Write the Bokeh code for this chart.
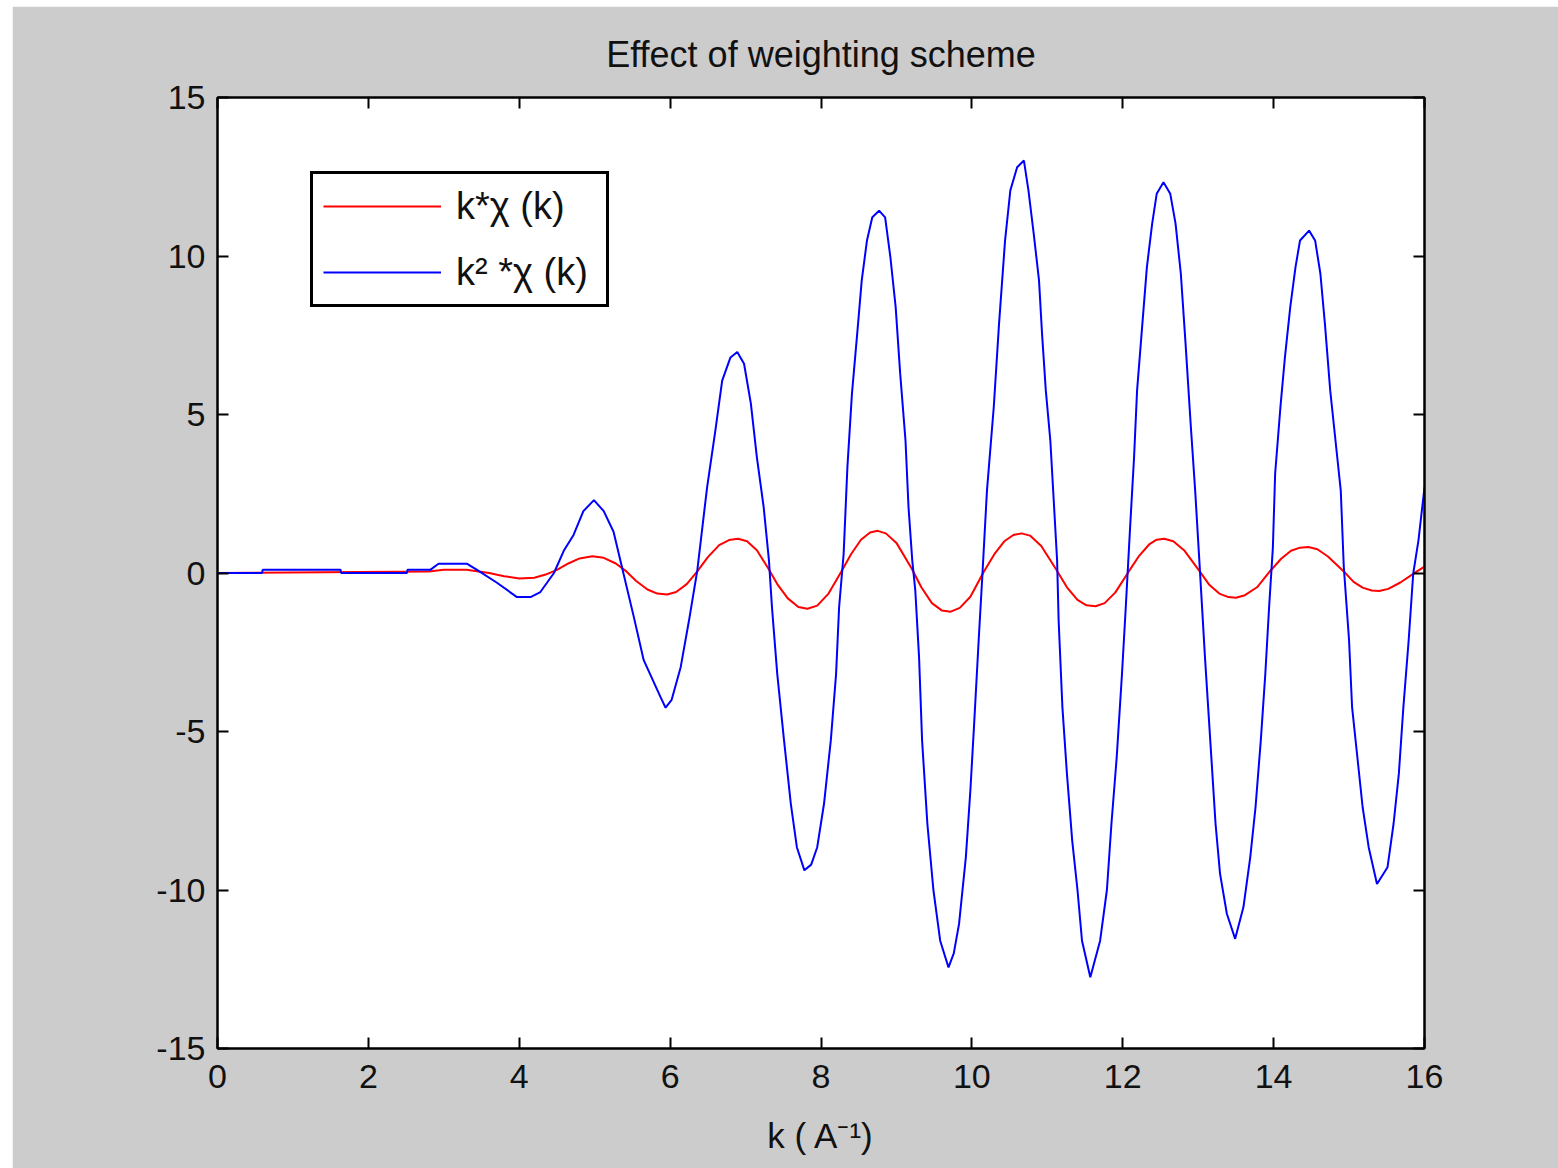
from bokeh.plotting import figure
from bokeh.models import (Range1d, FixedTicker, LinearAxis, Legend, LegendItem,
                          CustomJSTickFormatter)
from bokeh.embed import file_html
from bokeh.resources import INLINE

# k*chi(k) (red)
k_red = [0, 2.8, 3.0, 3.3, 3.6, 3.8, 4.0, 4.2, 4.35, 4.5, 4.65, 4.8, 4.97, 5.12, 5.28, 5.42,
         5.55, 5.7, 5.83, 5.96, 6.08, 6.22, 6.36, 6.5, 6.65, 6.78, 6.9, 7.02, 7.15, 7.3,
         7.42, 7.56, 7.7, 7.82, 7.95, 8.1, 8.27, 8.4, 8.53, 8.65, 8.75, 8.86, 9.0, 9.2,
         9.33, 9.47, 9.6, 9.72, 9.84, 9.98, 10.16, 10.3, 10.43, 10.55, 10.66, 10.77, 10.92,
         11.12, 11.26, 11.4, 11.52, 11.64, 11.76, 11.9, 12.08, 12.22, 12.35, 12.45, 12.55,
         12.67, 12.82, 13.02, 13.15, 13.28, 13.4, 13.5, 13.62, 13.78, 13.96, 14.1, 14.23,
         14.35, 14.46, 14.58, 14.72, 14.93, 15.06, 15.18, 15.3, 15.4, 15.52, 15.68, 15.9, 16.0]
chi_k1 = [0, 0.05, 0.1, 0.1, 0.0, -0.1, -0.17, -0.15, -0.05, 0.1, 0.3, 0.46, 0.53, 0.48, 0.3, 0.05,
          -0.25, -0.52, -0.65, -0.68, -0.6, -0.35, 0.05, 0.5, 0.88, 1.04, 1.08, 1.0, 0.72, 0.15,
          -0.35, -0.8, -1.07, -1.13, -1.03, -0.65, 0.05, 0.6, 1.05, 1.28, 1.33, 1.25, 0.95, 0.15,
          -0.45, -0.95, -1.18, -1.22, -1.1, -0.75, 0.05, 0.6, 1.0, 1.2, 1.25, 1.18, 0.85,
          0.1, -0.45, -0.85, -1.02, -1.05, -0.95, -0.62, 0.05, 0.55, 0.9, 1.05, 1.08,
          1.0, 0.7, 0.05, -0.38, -0.65, -0.76, -0.78, -0.7, -0.45, 0.08, 0.45, 0.7,
          0.8, 0.82, 0.75, 0.52, 0.05, -0.28, -0.46, -0.55, -0.57, -0.5, -0.3, 0.05, 0.2]

# k^2*chi(k) (blue)
k_blue = [0, 0.59, 0.6, 1.63, 1.64, 2.51, 2.52, 2.82, 2.93, 3.31, 3.44, 3.7, 3.97, 4.15, 4.28,
          4.46, 4.59, 4.72, 4.85, 4.99, 5.12, 5.25, 5.38, 5.52, 5.65, 5.87, 5.94, 6.02, 6.14,
          6.25, 6.36, 6.49, 6.60, 6.69, 6.80, 6.89, 6.98, 7.07, 7.15, 7.24, 7.31, 7.35, 7.42,
          7.51, 7.60, 7.68, 7.78, 7.87, 7.95, 8.04, 8.13, 8.20, 8.24, 8.30, 8.35, 8.41, 8.48,
          8.54, 8.61, 8.68, 8.77, 8.85, 8.92, 8.99, 9.05, 9.12, 9.16, 9.21, 9.25, 9.30, 9.34,
          9.41, 9.49, 9.58, 9.69, 9.76, 9.83, 9.92, 9.98, 10.03, 10.09, 10.14, 10.20, 10.29,
          10.36, 10.44, 10.51, 10.60, 10.69, 10.75, 10.82, 10.89, 10.93, 10.98, 11.04, 11.09,
          11.13, 11.15, 11.20, 11.26, 11.33, 11.40, 11.46, 11.57, 11.70, 11.79, 11.85, 11.92,
          11.99, 12.04, 12.10, 12.15, 12.19, 12.26, 12.32, 12.39, 12.45, 12.54, 12.63, 12.70,
          12.77, 12.83, 12.90, 12.96, 13.02, 13.09, 13.16, 13.23, 13.29, 13.38, 13.49, 13.60,
          13.69, 13.76, 13.83, 13.89, 13.94, 13.99, 14.02, 14.09, 14.15, 14.22, 14.29, 14.35,
          14.47, 14.55, 14.62, 14.68, 14.75, 14.82, 14.89, 14.93, 15.00, 15.04, 15.11, 15.18,
          15.26, 15.37, 15.51, 15.59, 15.66, 15.72, 15.79, 15.85, 15.92, 16.0]
chi_k2 = [0, 0, 0.1, 0.1, 0, 0, 0.1, 0.1, 0.29, 0.29, 0.1, -0.3, -0.76, -0.76, -0.6,
          0.0, 0.7, 1.2, 1.95, 2.3, 1.95, 1.3, 0.0, -1.4, -2.75, -3.9, -4.25, -4.0, -2.97,
          -1.5, 0.08, 2.7, 4.5, 6.07, 6.8, 6.97, 6.6, 5.35, 3.65, 2.08, 0.4, -1.08, -3.18,
          -5.28, -7.28, -8.65, -9.38, -9.2, -8.65, -7.28, -5.28, -3.18, -1.08, 0.6, 3.34, 5.65, 7.55,
          9.23, 10.5, 11.22, 11.43, 11.22, 9.96, 8.38, 6.28, 4.18, 2.08, 0.39, -0.55, -2.66, -5.28,
          -7.91, -10.0, -11.6, -12.44, -12.0, -11.07, -8.97, -6.86, -4.76, -2.13, -0.03, 2.6, 5.23,
          7.86, 10.49, 12.07, 12.8, 13.01, 12.07, 10.7, 9.23, 7.55, 5.76, 4.18, 2.08,
          0.39, -1.5, -4.23, -6.33, -8.44, -10.0, -11.6, -12.75, -11.6, -10.0, -7.91, -5.81,
          -3.18, -1.08, 1.55, 3.65, 5.76, 7.86, 9.65, 11.02, 11.96, 12.33, 11.96, 11.02,
          9.44, 7.33, 4.71, 2.6, 0.2, -2.66, -5.28, -7.91, -9.49, -10.75, -11.54, -10.54,
          -8.97, -7.39, -5.28, -3.18, -1.08, 0.8, 3.13, 5.23, 6.81, 8.38, 9.65, 10.49,
          10.8, 10.49, 9.44, 7.86, 5.76, 4.18, 2.6, 0.2, -2.13, -4.23, -5.81, -7.39,
          -8.65, -9.81, -9.28, -7.91, -6.33, -4.23, -2.13, -0.03, 1.03, 2.7]

x_ticks = [0, 2, 4, 6, 8, 10, 12, 14, 16]
y_ticks = [-15, -10, -5, 0, 5, 10, 15]

FONT = "Liberation Sans"

p = figure(width=1546, height=1162, output_backend="svg", toolbar_location=None,
           x_range=Range1d(0, 16), y_range=Range1d(-15, 15),
           min_border_left=205, min_border_right=134, min_border_top=91, min_border_bottom=120,
           background_fill_color="white", border_fill_color="#cccccc")
p.margin = (6, 0, 0, 12)

p.title.text = "Effect of weighting scheme"
p.title.align = "center"
p.title.text_font = FONT
p.title.text_font_size = "36px"
p.title.text_font_style = "normal"
p.title.text_color = "#111111"
p.title.standoff = 46

p.xgrid.visible = False
p.ygrid.visible = False
p.outline_line_color = "black"
p.outline_line_width = 2

def style_axis(ax, labels=True):
    ax.axis_line_color = "black"
    ax.axis_line_width = 2
    ax.major_tick_in = 11
    ax.major_tick_out = 0
    ax.major_tick_line_width = 2
    ax.major_tick_line_color = "black"
    ax.minor_tick_line_color = None
    ax.major_label_text_font = FONT
    ax.major_label_text_color = "#111111"
    if labels:
        ax.major_label_text_font_size = "34px"
        ax.formatter = CustomJSTickFormatter(code="return tick.toString();")
    else:
        ax.formatter = CustomJSTickFormatter(code="return '';")
        ax.major_label_standoff = 0

p.xaxis.ticker = FixedTicker(ticks=x_ticks)
p.yaxis.ticker = FixedTicker(ticks=y_ticks)
style_axis(p.xaxis[0])
style_axis(p.yaxis[0])
p.xaxis.major_label_standoff = 16
p.yaxis.major_label_standoff = 12
p.xaxis.axis_label = "k ( A\u207b\u00b9)"
p.xaxis.axis_label_text_font = FONT
p.xaxis.axis_label_text_font_size = "35px"
p.xaxis.axis_label_text_font_style = "normal"
p.xaxis.axis_label_text_color = "#111111"
p.xaxis.axis_label_standoff = 25

top_ax = LinearAxis(ticker=FixedTicker(ticks=x_ticks))
style_axis(top_ax, labels=False)
p.add_layout(top_ax, "above")
right_ax = LinearAxis(ticker=FixedTicker(ticks=y_ticks))
style_axis(right_ax, labels=False)
p.add_layout(right_ax, "right")

r1 = p.line(k_red, chi_k1, line_color="#ff0000", line_width=2)
r2 = p.line(k_blue, chi_k2, line_color="#0000ff", line_width=2)

legend = Legend(items=[LegendItem(label="k*\u03c7 (k)", renderers=[r1]),
                       LegendItem(label="k\u00b2 *\u03c7 (k)", renderers=[r2])],
                location=(93, 741))
legend.border_line_color = "black"
legend.border_line_alpha = 1.0
legend.border_line_width = 3
legend.background_fill_color = "white"
legend.background_fill_alpha = 1
legend.label_text_font = FONT
legend.label_text_font_size = "38px"
legend.label_text_color = "#111111"
legend.glyph_width = 118
legend.glyph_height = 44
legend.label_height = 44
legend.label_width = 140
legend.label_standoff = 15
legend.spacing = 22
legend.padding = 10
legend.margin = 0
p.add_layout(legend)

open("out.html", "w").write(file_html(p, INLINE))
